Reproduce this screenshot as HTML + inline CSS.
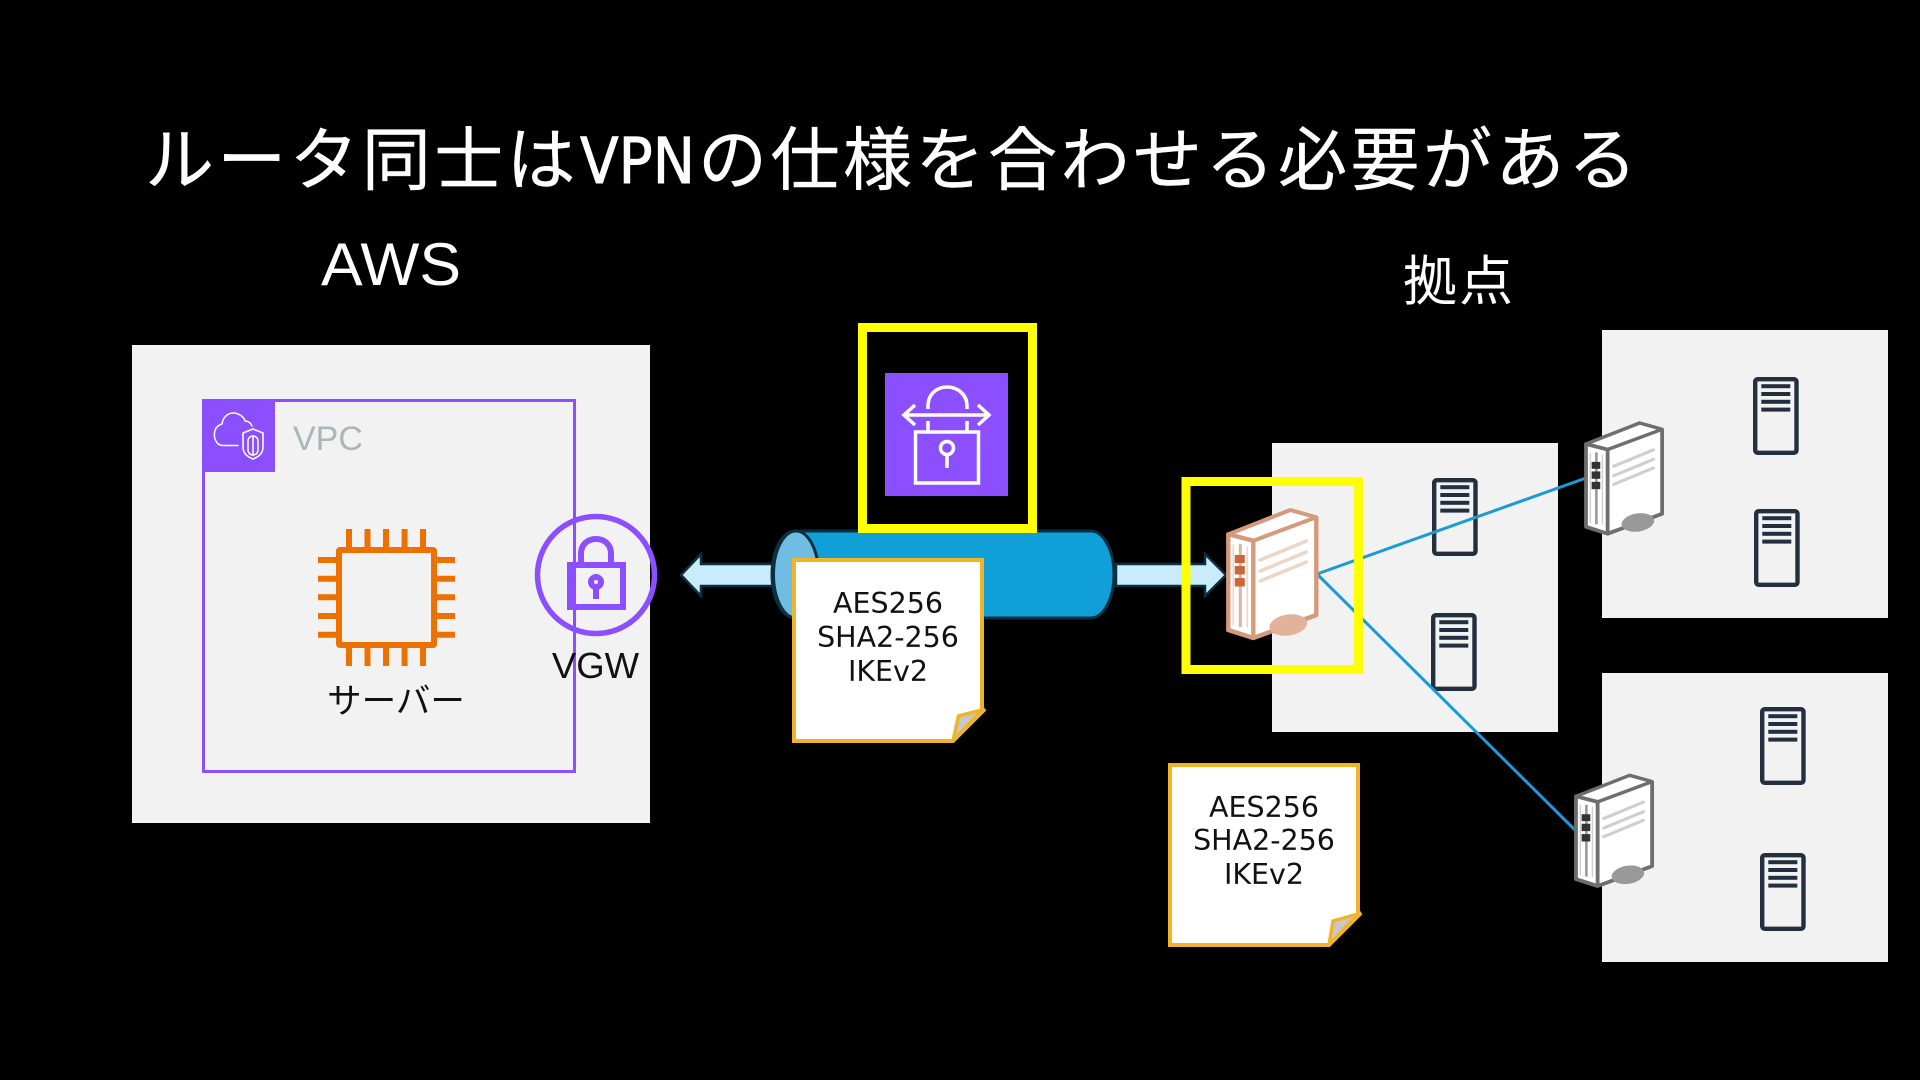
<!DOCTYPE html>
<html lang="ja">
<head>
<meta charset="utf-8">
<title>ルータ同士はVPNの仕様を合わせる必要がある</title>
<style>
html,body{margin:0;padding:0;background:#000;width:1920px;height:1080px;overflow:hidden}
svg{display:block}
.jp{font-family:"Liberation Sans","Noto Sans CJK JP",sans-serif}
.la{font-family:"Liberation Sans",sans-serif}
.dv{font-family:"DejaVu Sans",sans-serif}
.note{font-size:28.5px;fill:#111;text-anchor:middle}
</style>
</head>
<body>
<svg width="1920" height="1080" viewBox="0 0 1920 1080" xmlns="http://www.w3.org/2000/svg">
<defs>
  <g id="srv">
    <rect x="2.2" y="2.2" width="41.3" height="73.6" rx="2.5" fill="none" stroke="#232f3e" stroke-width="4.4"/>
    <g fill="#232f3e">
      <rect x="8.3" y="7.2" width="29" height="4"/>
      <rect x="8.3" y="15" width="29" height="4"/>
      <rect x="8.3" y="22.8" width="29" height="4"/>
      <rect x="8.3" y="30.6" width="29" height="4"/>
    </g>
  </g>
  <g id="router" stroke-linejoin="round">
    <polygon points="62,0 88,7.3 88,105 25,128 0,120 0,24.3" fill="#fff"/>
    <polygon points="62,0 88,7.3 25,30.7 0,24.3" fill="#fff" stroke="var(--e)" stroke-width="4"/>
    <polygon points="0,24.3 25,30.7 25,128 0,120" fill="#fff" stroke="var(--e)" stroke-width="4.4"/>
    <polyline points="88,7.3 88,105 25,128" fill="none" stroke="var(--e)" stroke-width="4.4"/>
    <g stroke="var(--l)" stroke-width="3.6" fill="none" stroke-linecap="round">
      <path d="M32 50 L78 31M32 61 L78 42M32 71 L78 52"/>
      <path d="M5 35 V115M19 37 V117" stroke-width="1.6"/>
    </g>
    <path d="M12 34 V117" stroke="var(--m)" stroke-width="3"/>
    <g fill="var(--b)">
      <rect x="6.5" y="45" width="10" height="8"/>
      <rect x="6.5" y="56" width="10" height="8.5"/>
      <rect x="6.5" y="68" width="10" height="8.5"/>
    </g>
    <ellipse cx="60" cy="115" rx="19" ry="10.5" transform="rotate(-9 60 115)" fill="var(--o)"/>
  </g>
</defs>

<rect width="1920" height="1080" fill="#000"/>

<!-- Title -->
<text x="145" y="184" fill="#fff" stroke="#fff" stroke-width=".4" class="jp" font-size="69" letter-spacing="3.3">ルータ同士は</text>
<text x="580" y="183" fill="#fff" stroke="#fff" stroke-width=".9" class="dv" font-size="63" textLength="115" lengthAdjust="spacingAndGlyphs">VPN</text>
<text x="698" y="184" fill="#fff" stroke="#fff" stroke-width=".4" class="jp" font-size="69" letter-spacing="3.5">の仕様を合わせる必要がある</text>
<text x="321" y="285" fill="#fff" class="la" font-size="60" textLength="140" lengthAdjust="spacingAndGlyphs">AWS</text>
<text x="1403" y="300" fill="#fff" class="jp" font-size="54" letter-spacing="2">拠点</text>

<!-- gray panels -->
<rect x="132" y="345" width="518" height="478" fill="#f2f2f2"/>
<rect x="1272" y="443" width="286" height="289" fill="#f2f2f2"/>
<rect x="1602" y="330" width="286" height="288" fill="#f2f2f2"/>
<rect x="1602" y="673" width="286" height="289" fill="#f2f2f2"/>

<!-- VPC -->
<rect x="203.5" y="400.5" width="371" height="371" fill="none" stroke="#8c4fff" stroke-width="3"/>
<rect x="202" y="399" width="73" height="73" fill="#8c4fff"/>
<g fill="none" stroke="#fff" stroke-width="1.5" stroke-linecap="round" stroke-linejoin="round">
  <path d="M238 445.5 H223 C215 445.5 214 436 214.5 433 C215 427 219 425 222 424 C223 417 228 413 233 413 C239 413 244 417 245 421 C248 421 251 423 252 426"/>
  <path d="M253 429 L243 433 V447 C243 454 248 457 253 459 C258 457 263 454 263 447 V433 Z"/>
  <rect x="248" y="436" width="10" height="19" rx="5"/>
  <path d="M253 436 V455"/>
</g>
<text x="293" y="450" fill="#aab7b8" class="la" font-size="34">VPC</text>

<!-- chip -->
<rect x="339" y="550" width="95" height="95" rx="1" fill="none" stroke="#ed7100" stroke-width="6"/>
<g stroke="#ed7100" stroke-width="6" fill="none">
  <path d="M349 529 V548M367.5 529 V548M386 529 V548M404.6 529 V548M423 529 V548"/>
  <path d="M349 647 V666M367.5 647 V666M386 647 V666M404.6 647 V666M423 647 V666"/>
  <path d="M318 560 H337M318 578.7 H337M318 597.3 H337M318 616 H337M318 634.7 H337"/>
  <path d="M436 560 H455M436 578.7 H455M436 597.3 H455M436 616 H455M436 634.7 H455"/>
</g>
<text x="396" y="713" fill="#111" class="jp" font-size="34.5" text-anchor="middle">サーバー</text>

<!-- VGW -->
<circle cx="596" cy="575" r="58.5" fill="none" stroke="#8c4fff" stroke-width="5.5"/>
<g fill="none" stroke="#8c4fff" stroke-width="6">
  <rect x="570" y="565" width="53" height="42"/>
  <path d="M581 564 V554 C581 544 588 539 596 539 C604 539 611 544 611 554 V564"/>
  <circle cx="596" cy="582" r="5"/>
  <path d="M596 587 V599"/>
</g>
<text x="595.5" y="678" fill="#111" class="la" font-size="36.5" text-anchor="middle">VGW</text>

<!-- arrows -->
<polygon points="681,575 701,554 701,564 775,564 775,586 701,586 701,596" fill="#c9ecfb" stroke="#0c2f42" stroke-width="2.5"/>
<polygon points="1116,564 1205,564 1205,554 1226,575 1205,596 1205,586 1116,586" fill="#c9ecfb" stroke="#0c2f42" stroke-width="2.5"/>

<!-- cylinder -->
<path d="M795 531 H1091 A23 43.5 0 0 1 1091 618 H795 A23 43.5 0 0 1 795 531 Z" fill="#119fd8" stroke="#0c2f42" stroke-width="3"/>
<ellipse cx="796" cy="574.5" rx="22.5" ry="43.5" fill="#6fbde2" stroke="#0c2f42" stroke-width="3"/>

<!-- note 1 -->
<path d="M794 560 H982 V711 L985 709 L953 741 H794 Z" fill="#fff" stroke="#f0b429" stroke-width="4"/>
<polygon points="958.5,716 982,710 953,741" fill="#c8c8c8" stroke="#f0b429" stroke-width="3.5" stroke-linejoin="round"/>
<g class="dv note">
  <text class="note" x="888" y="613">AES256</text>
  <text class="note" x="888" y="647">SHA2-256</text>
  <text class="note" x="888" y="681">IKEv2</text>
</g>

<!-- note 2 -->
<path d="M1170 765 H1358 V914 L1361 913 L1329 945 H1170 Z" fill="#fff" stroke="#f0b429" stroke-width="4"/>
<polygon points="1333,921 1358,914 1329,945" fill="#c8c8c8" stroke="#f0b429" stroke-width="3.5" stroke-linejoin="round"/>
<g class="dv note">
  <text class="note" x="1264" y="817">AES256</text>
  <text class="note" x="1264" y="850">SHA2-256</text>
  <text class="note" x="1264" y="884">IKEv2</text>
</g>

<!-- servers -->
<use href="#srv" x="1432" y="478"/>
<use href="#srv" x="1431" y="613"/>
<use href="#srv" x="1753" y="377"/>
<use href="#srv" x="1754" y="509"/>
<use href="#srv" x="1760" y="707"/>
<use href="#srv" x="1760" y="853"/>

<!-- connectors -->
<g stroke="#1a9ad6" stroke-width="3" fill="none">
  <path d="M1317 574 L1586 478"/>
  <path d="M1317 574 L1576 831"/>
</g>

<!-- yellow highlight 1 + tunnel icon -->
<rect x="862.5" y="327.5" width="170" height="201" fill="#000" stroke="#ffff00" stroke-width="9"/>
<rect x="885" y="373" width="123" height="123" fill="#8c4fff"/>
<g fill="none" stroke="#fff" stroke-width="3.5">
  <path d="M928 409 V406 C928 394 937 387 947 387 C957 387 967 394 967 406 V409"/>
  <path d="M928 421 V432M967 421 V432"/>
  <path d="M904 415 H990"/>
  <path d="M915 405 L904 415 L915 425M978 405 L989 415 L978 425"/>
  <rect x="915.5" y="432" width="63" height="51"/>
  <circle cx="947" cy="448" r="6.5"/>
  <path d="M947 454.5 V468"/>
</g>

<!-- yellow highlight 2 -->
<rect x="1186" y="481.5" width="172.5" height="188" fill="none" stroke="#ffff00" stroke-width="9"/>

<!-- routers -->
<g transform="translate(1228.3 510)" style="--e:#d49a7b;--l:#ecd6c8;--m:#dcb49c;--b:#c9673a;--o:#e3b29a">
  <use href="#router"/>
</g>
<g transform="translate(1586 423) scale(.865)" style="--e:#6e6e6e;--l:#cfcfcf;--m:#9a9a9a;--b:#333;--o:#999">
  <use href="#router"/>
</g>
<g transform="translate(1576 775.3) scale(.865)" style="--e:#6e6e6e;--l:#cfcfcf;--m:#9a9a9a;--b:#333;--o:#999">
  <use href="#router"/>
</g>
</svg>
</body>
</html>
